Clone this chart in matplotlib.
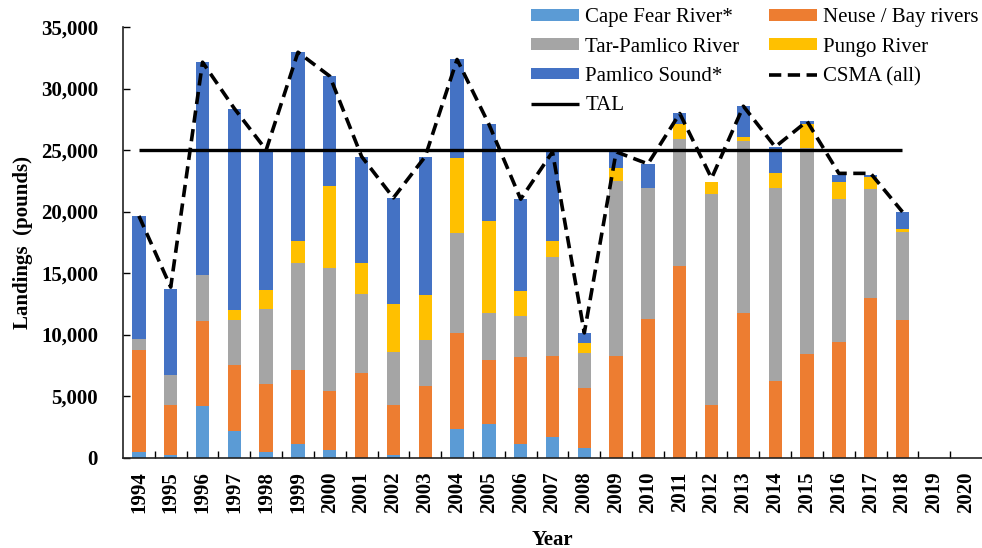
import numpy as np
import matplotlib
matplotlib.use("Agg")
import matplotlib.pyplot as plt
from matplotlib.ticker import FuncFormatter, FixedLocator

# ── Landings by water body (pounds) ────────────────────────────
years = list(range(1994, 2021))
cape_fear = [450, 240, 4170, 2190, 460, 1060, 590, 0, 190, 0, 2300, 2760, 1060,
             1630, 810, 0, 0, 0, 0, 0, 0, 0, 0, 0, 0, 0, 0]
neuse = [8330, 4010, 6890, 5290, 5520, 6090, 4820, 6880, 4060, 5820, 7830, 5170,
         7090, 6630, 4850, 8260, 11240, 15580, 4250, 11710, 6200, 8400, 9430,
         12980, 11140, 0, 0]
tar_pamlico = [890, 2440, 3760, 3660, 6080, 8670, 10000, 6450, 4340, 3720, 8130,
               3780, 3360, 8050, 2840, 14230, 10710, 10350, 17210, 14010, 15720,
               16770, 11570, 8830, 7200, 0, 0]
pungo = [0, 0, 0, 840, 1520, 1770, 6650, 2520, 3930, 3660, 6070, 7480, 2030,
         1280, 820, 1050, 0, 1170, 920, 350, 1170, 1980, 1410, 1000, 250, 0, 0]
pamlico_sound = [9970, 6970, 17320, 16390, 11400, 15360, 8940, 8620, 8590,
                 11270, 8030, 7910, 7460, 7260, 810, 1310, 1920, 870, 0, 2490,
                 2160, 190, 570, 170, 1380, 0, 0]
csma_years = list(range(1994, 2019))
csma_all = [19640, 13850, 32140, 28370, 25000, 32950, 31000, 24470, 21110,
            24470, 32360, 27100, 21000, 24850, 10130, 24850, 23870, 27970,
            22700, 28560, 25250, 27340, 23100, 23100, 19970]
tal = 25000

series = [
    ("Cape Fear River*", cape_fear, "#5B9BD5"),
    ("Neuse / Bay rivers", neuse, "#ED7D31"),
    ("Tar-Pamlico River", tar_pamlico, "#A5A5A5"),
    ("Pungo River", pungo, "#FFC000"),
    ("Pamlico Sound*", pamlico_sound, "#4472C4"),
]

plt.rcParams["font.family"] = ["Liberation Serif", "DejaVu Serif"]

fig = plt.figure(figsize=(9.82, 5.48), dpi=100)
ax = fig.add_axes([123 / 982, 1 - 457.5 / 548, 859 / 982, 430.5 / 548])

x = np.arange(len(years))
bottom = np.zeros(len(years))
handles = {}
for name, vals, color in series:
    vals = np.array(vals, dtype=float)
    handles[name] = ax.bar(x, vals, 0.42, bottom=bottom, color=color,
                           linewidth=0, label=name)
    bottom += vals

xc = np.array([years.index(y) for y in csma_years])
csma_line, = ax.plot(xc, csma_all, color="black", lw=2.6,
                     linestyle=(0, (3.4, 1.8)), label="CSMA (all)")
tal_line, = ax.plot([xc[0], xc[-1]], [tal, tal], color="black", lw=2.4,
                    solid_capstyle="butt", label="TAL")

ax.set_xlim(-0.5, len(years) - 0.5)
ax.set_ylim(0, 35000)
ax.set_yticks(np.arange(0, 35001, 5000))
ax.yaxis.set_major_formatter(FuncFormatter(lambda v, p: f"{int(v):,}"))
ax.set_xticks(x)
ax.set_xticklabels([str(y) for y in years], rotation=90,
                   fontweight="bold", fontsize=15)
ax.xaxis.set_minor_locator(FixedLocator(np.arange(0.5, len(years) - 0.5, 1)))
ax.tick_params(axis="x", which="major", length=0, pad=10)
ax.tick_params(axis="x", which="minor", direction="in", length=5, width=1)
ax.tick_params(axis="y", direction="in", length=5, width=1, pad=18,
               labelsize=15)
for lab in ax.get_yticklabels():
    lab.set_fontweight("bold")

for side in ("top", "right"):
    ax.spines[side].set_visible(False)
for side in ("left", "bottom"):
    ax.spines[side].set_linewidth(1.2)
    ax.spines[side].set_color("#222222")

ax.set_ylabel("Landings  (pounds)", fontsize=15, fontweight="bold",
              labelpad=6)
ax.set_xlabel("Year", fontsize=15, fontweight="bold", labelpad=12)

order = [handles["Cape Fear River*"], handles["Tar-Pamlico River"],
         handles["Pamlico Sound*"], tal_line, handles["Neuse / Bay rivers"],
         handles["Pungo River"], csma_line]
labels = ["Cape Fear River*", "Tar-Pamlico River", "Pamlico Sound*", "TAL",
          "Neuse / Bay rivers", "Pungo River", "CSMA (all)"]
fig.legend(order, labels, loc="upper right", bbox_to_anchor=(1.009, 1.008),
           ncol=2, frameon=False, fontsize=15, handlelength=2.3,
           handleheight=0.5, handletextpad=0.3, columnspacing=1.4,
           labelspacing=0.5, borderaxespad=0.2)

fig.savefig("out.png", dpi=100)
